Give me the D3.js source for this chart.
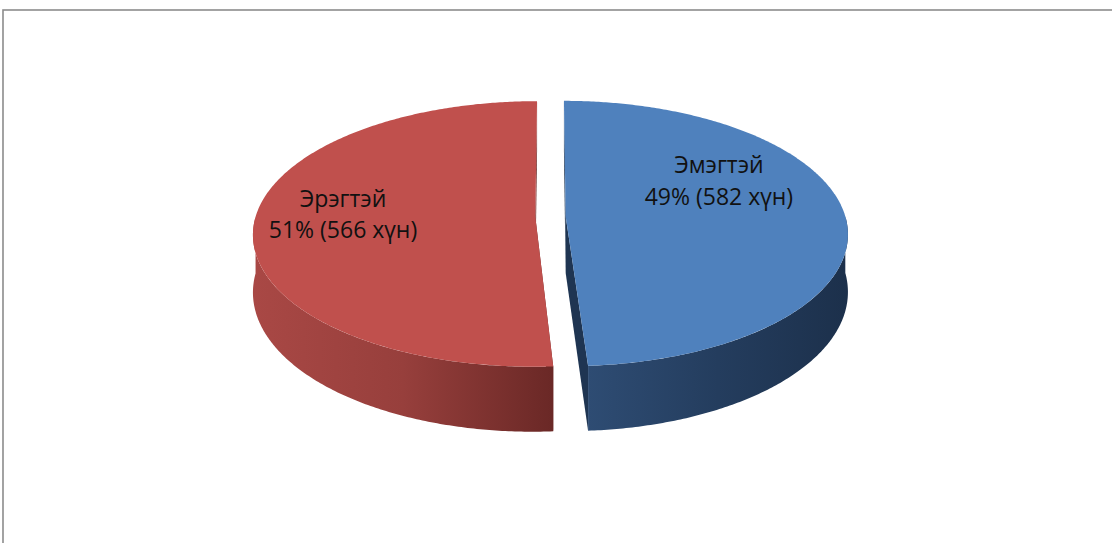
<!DOCTYPE html>
<html>
<head>
<meta charset="utf-8">
<script src="https://cdn.jsdelivr.net/npm/d3@7"></script>
<style>
  body { margin: 0; background: #fff; overflow: hidden; }
</style>
</head>
<body>
<script>
const categories = ['Эмэгтэй', 'Эрэгтэй']
const percents = [49, 51]
const counts = [582, 566]
const unit = 'хүн'

const topColors = ['#4f81bd', '#c0504d']
const sideColors = [['#2e4c73', '#243d5e', '#1c304b'], ['#a94845', '#973f3c', '#6a2826']]
const cutColors = ['#1f3552', '#6a2826']
// where each label sits on its slice (angle in degrees, fraction of radius)
const labelAt = [{ a: 63.8, r: 0.635 }, { a: 271.2, r: 0.689 }]

const width = 1112
const height = 543
const cx = 550.5, cy = 216.6, ax = 279.7, ay = 130.5
const q = 0.129          // perspective strength
const explode = 0.0543   // slice pull-out, in radius units
const depth = 56.6

const svg = d3.select('body').append('svg')
  .attr('width', width)
  .attr('height', height)

svg.append('rect')
  .attr('x', 3)
  .attr('y', 10)
  .attr('width', width + 50)
  .attr('height', height + 50)
  .style('fill', '#fff')
  .style('stroke', '#8c8c8c')
  .style('stroke-width', 1.6)

const pie = d3.pie().sort(null).value(d => d)
const arcs = pie(percents).map((d, i) => ({ ...d, i }))

function project(u, v, low) {
  const w = 1 / (1 - q * v)
  return [cx + ax * u * w, cy + ay * v * w + (low ? depth * w : 0)]
}

function point(d, theta, r, low) {
  const mid = (d.startAngle + d.endAngle) / 2
  const u = r * Math.sin(theta) + explode * Math.sin(mid)
  const v = -r * Math.cos(theta) - explode * Math.cos(mid)
  return project(u, v, low)
}

function angles(a0, a1) {
  const n = Math.max(2, Math.ceil(Math.abs(a1 - a0) / 0.01))
  return d3.range(n + 1).map(k => a0 + (a1 - a0) * k / n)
}

const line = d3.line()
const shape = pts => line(pts) + 'Z'

const defs = svg.append('defs')
const g = svg.append('g')

arcs.forEach(d => {
  // cut faces
  ;[d.startAngle, d.endAngle].forEach(a => {
    const pts = [point(d, a, 0, false), point(d, a, 1, false), point(d, a, 1, true), point(d, a, 0, true)]
    g.append('path')
      .attr('d', shape(pts))
      .style('fill', cutColors[d.i])
  })

  // outer wall, front half only
  const a0 = Math.max(d.startAngle, Math.PI / 2)
  const a1 = Math.min(d.endAngle, Math.PI * 1.5)
  if (a1 > a0) {
    const as = angles(a0, a1)
    const topEdge = as.map(a => point(d, a, 1, false))
    const lowEdge = as.map(a => point(d, a, 1, true)).reverse()
    const xs = topEdge.map(p => p[0])
    const grad = defs.append('linearGradient')
      .attr('id', 'side' + d.i)
      .attr('gradientUnits', 'userSpaceOnUse')
      .attr('x1', d3.min(xs)).attr('x2', d3.max(xs))
      .attr('y1', 0).attr('y2', 0)
    const stops = d.i === 0 ? sideColors[0] : sideColors[1]
    stops.forEach((c, k) => grad.append('stop')
      .attr('offset', k / (stops.length - 1))
      .attr('stop-color', c))
    g.append('path')
      .attr('d', shape(topEdge.concat(lowEdge)))
      .style('fill', `url(#side${d.i})`)
  }

  // top face
  const rim = angles(d.startAngle, d.endAngle).map(a => point(d, a, 1, false))
  g.append('path')
    .attr('d', shape([point(d, 0, 0, false)].concat(rim)))
    .style('fill', topColors[d.i])
})

// labels
arcs.forEach(d => {
  const pos = labelAt[d.i]
  const [x, y] = point(d, pos.a * Math.PI / 180, pos.r, false)
  const t = svg.append('text')
    .attr('x', x)
    .attr('y', y - 8)
    .attr('text-anchor', 'middle')
    .style('font-family', '"Open Sans", sans-serif')
    .style('font-size', '23px')
    .style('fill', '#111')
  t.append('tspan').attr('x', x).text(categories[d.i])
  t.append('tspan').attr('x', x).attr('dy', 31.5)
    .text(`${percents[d.i]}% (${counts[d.i]} ${unit})`)
})
</script>
</body>
</html>
